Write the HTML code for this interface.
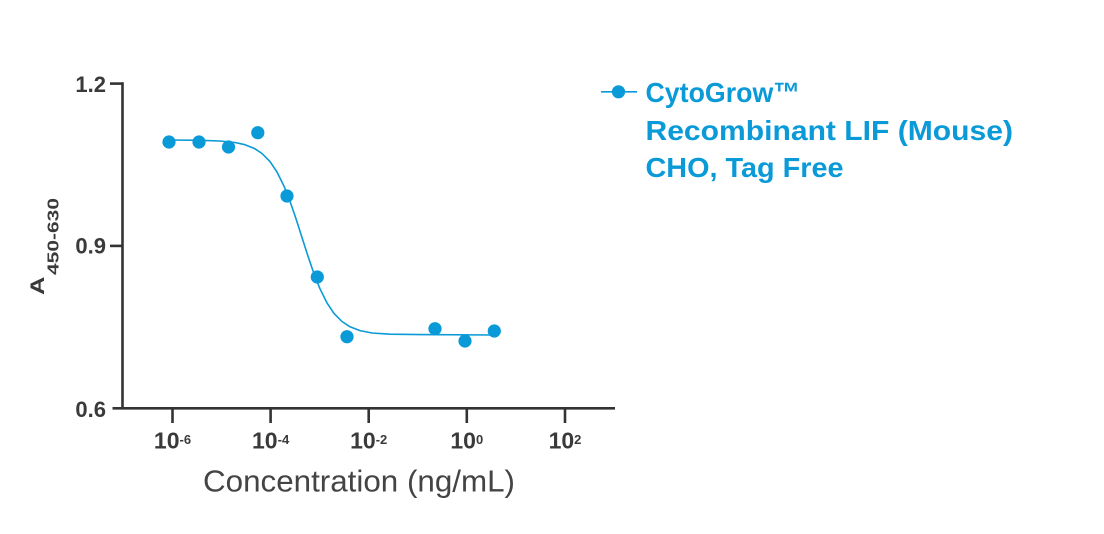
<!DOCTYPE html>
<html>
<head>
<meta charset="utf-8">
<style>
  html, body { margin: 0; padding: 0; background: #ffffff; }
  svg { display: block; }
  text { font-family: "Liberation Sans", Arial, sans-serif; }
</style>
</head>
<body>
<svg width="1104" height="534" viewBox="0 0 1104 534" xmlns="http://www.w3.org/2000/svg">
  <rect x="0" y="0" width="1104" height="534" fill="#ffffff"/>

  <!-- Axes -->
  <g stroke="#333333" stroke-width="2.6" fill="none">
    <line x1="122.5" y1="82.3" x2="122.5" y2="409.5"/>
    <line x1="112.5" y1="408.3" x2="615" y2="408.3"/>
    <!-- y ticks -->
    <line x1="110" y1="83.6" x2="122.5" y2="83.6"/>
    <line x1="110" y1="245.9" x2="122.5" y2="245.9"/>
    <!-- x ticks -->
    <line x1="172.5" y1="408.3" x2="172.5" y2="423"/>
    <line x1="270.6" y1="408.3" x2="270.6" y2="423"/>
    <line x1="368.7" y1="408.3" x2="368.7" y2="423"/>
    <line x1="466.8" y1="408.3" x2="466.8" y2="423"/>
    <line x1="565" y1="408.3" x2="565" y2="423"/>
  </g>

  <!-- Y tick labels -->
  <g font-size="22" font-weight="bold" fill="#3a3a3a" text-anchor="end">
    <text x="106" y="92">1.2</text>
    <text x="106" y="253.5">0.9</text>
    <text x="106" y="417">0.6</text>
  </g>

  <!-- X tick labels -->
  <g font-size="23" font-weight="bold" fill="#3a3a3a" text-anchor="middle">
    <text x="172.5" y="448.3">10<tspan font-size="13" dy="-4.5">-6</tspan></text>
    <text x="270.6" y="448.3">10<tspan font-size="13" dy="-4.5">-4</tspan></text>
    <text x="368.7" y="448.3">10<tspan font-size="13" dy="-4.5">-2</tspan></text>
    <text x="466.8" y="448.3">10<tspan font-size="13" dy="-4.5">0</tspan></text>
    <text x="565" y="448.3">10<tspan font-size="13" dy="-4.5">2</tspan></text>
  </g>

  <!-- X axis title -->
  <text x="359" y="491.5" font-size="31" fill="#444444" text-anchor="middle" textLength="312" lengthAdjust="spacingAndGlyphs">Concentration (ng/mL)</text>

  <!-- Y axis title (rotated) -->
  <g transform="translate(44,295) rotate(-90)" fill="#3a3a3a" font-weight="bold">
    <text x="0" y="0" font-size="19" textLength="18.5" lengthAdjust="spacingAndGlyphs">A</text>
    <text x="20" y="14.5" font-size="16" textLength="77" lengthAdjust="spacingAndGlyphs">450-630</text>
  </g>

  <!-- Fitted curve -->
  <polyline fill="none" stroke="#0a9ad8" stroke-width="1.6" stroke-linejoin="round"
    points="169,140 200,140.3 220,141 235,142.5 245,144.7 255,148.8 262,153.5 270,161.6 277,172 284,186.2 290,201.2 296,218.8 302,237.5 308,256.2 314,273.8 320,288.8 327,302.9 334,313.4 342,321.5 350,326.8 360,330.6 372,333 390,334.2 420,334.6 494,335"/>

  <!-- Data points -->
  <g fill="#0a9ad8">
    <circle cx="169" cy="142" r="6.6"/>
    <circle cx="199" cy="142" r="6.6"/>
    <circle cx="228.5" cy="147" r="6.6"/>
    <circle cx="257.8" cy="132.7" r="6.6"/>
    <circle cx="287" cy="196" r="6.6"/>
    <circle cx="317.3" cy="277" r="6.6"/>
    <circle cx="347" cy="336.7" r="6.6"/>
    <circle cx="435" cy="328.7" r="6.6"/>
    <circle cx="465" cy="341" r="6.6"/>
    <circle cx="494.3" cy="331" r="6.6"/>
  </g>

  <!-- Legend -->
  <line x1="601" y1="91.8" x2="637" y2="91.8" stroke="#0a9ad8" stroke-width="1.6"/>
  <circle cx="618.5" cy="91.8" r="6.6" fill="#0a9ad8"/>
  <g font-size="28" font-weight="bold" fill="#0a9ad8">
    <text x="645.5" y="102" textLength="154.5" lengthAdjust="spacingAndGlyphs">CytoGrow™</text>
    <text x="645.5" y="140" textLength="367.5" lengthAdjust="spacingAndGlyphs">Recombinant LIF (Mouse)</text>
    <text x="645.5" y="177" textLength="198" lengthAdjust="spacingAndGlyphs">CHO, Tag Free</text>
  </g>
</svg>
</body>
</html>
